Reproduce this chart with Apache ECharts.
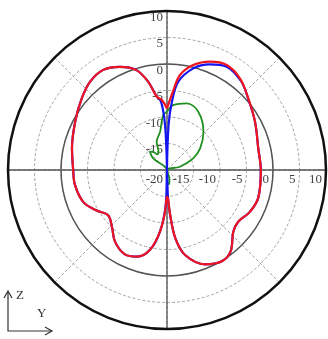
<!DOCTYPE html>
<html>
<head>
<meta charset="utf-8">
<script src="https://cdn.jsdelivr.net/npm/echarts@6/dist/echarts.min.js"></script>
<style>
  html, body { margin: 0; padding: 0; background: #ffffff; }
  #chart { width: 328px; height: 339px; }
</style>
</head>
<body>
<div id="chart"></div>
<script>
"use strict";

/* ---- data: [angle (deg, clockwise from +Z), gain dB] ---- */

const radiusTicks = [-20, -15, -10, -5, 0, 5, 10];

const redAngles = [0, 4.5, 7.8, 14, 21.7, 29.6, 38.5, 48.6, 61.2, 76.6, 90, 107, 117, 126, 133, 142, 149, 158, 168, 173, 176, 178, 180,
    182.7, 186.5, 192, 199, 206.5, 216, 224, 232.5, 240, 249, 261, 270, 283, 298, 310, 319, 327.5, 335.5, 343, 348, 352, 356, 360];
const redGain = [-8.4, -5.0, -1.9, 0.4, 2.0, 2.8, 2.1, 0.45, -1.05, -2.3, -2.3, -2.0, -2.5, -3.4, -2.9, -0.5, 0.1, -0.8, -3.6, -7.0, -11.5, -14.6, -15.0,
    -12.1, -8.3, -4.6, -2.7, -2.2, -3.3, -5.05, -6.0, -4.7, -3.1, -2.4, -2.3, -1.6, -0.4, 1.0, 2.1, 2.4, 1.4, -0.3, -3.0, -6.0, -6.8, -8.4];

const blueAngles = [0, 2, 4.2, 7.3, 14.5, 22, 30, 40, 48.6, 61.2, 76.6, 90, 107, 117, 126, 133, 142, 149, 158, 168, 173, 176, 178, 180,
    182, 186.5, 192, 199, 206.5, 216, 224, 232.5, 240, 249, 261, 270, 283, 298, 310, 319, 327.5, 335.5, 343, 348, 352, 355, 357.5, 360];
const blueGain = [-20, -11.5, -7.0, -3.2, -0.2, 1.5, 2.5, 1.8, 0.4, -1.05, -2.3, -2.3, -2.0, -2.5, -3.4, -2.9, -0.5, 0.1, -0.8, -3.6, -7.0, -11.5, -14.8, -20,
    -13.5, -8.3, -4.6, -2.7, -2.2, -3.3, -5.05, -6.0, -4.7, -3.1, -2.4, -2.3, -1.6, -0.4, 1.0, 2.1, 2.4, 1.4, -0.3, -3.0, -6.0, -7.0, -11.5, -20];

const greenAngles = [0, 5.5, 16.5, 28, 43.5, 56.7, 66, 75.7, 85, 150, 165, 172, 178, 186, 195, 300, 310, 317, 322, 328, 335, 340, 345, 350, 356, 360];
const greenGain = [-9.0, -7.7, -6.9, -7.5, -10.0, -12.5, -14.6, -17.5, -20, -20, -18.2, -17.3, -17.6, -19.2, -20, -20, -16.6, -15.3, -15.6, -16.5, -16.2, -14.3, -13.5, -12.6, -9.6, -9.0];

/* ---------------------------------------------------------- */

const CENTER = [167, 170];
const RADIUS = 159;
const labelFont = { fontFamily: "Liberation Serif", fontSize: 13, color: "#444444" };
const dashed = { color: "#a2a2a2", type: [3, 2], width: 1 };

function toPolar(angles, gains){
    return angles.map((a, i) => [gains[i], a]);
}

function patternSeries(name, angles, gains, color, width){
    return {
        name,
        type: "line",
        coordinateSystem: "polar",
        polarIndex: 1,
        data: toPolar(angles, gains),
        smooth: 0.35,
        symbol: "none",
        lineStyle: { color, width },
        z: 5
    };
}

const chart = echarts.init(document.getElementById("chart"));

chart.setOption({
    animation: false,
    polar: [
        { center: CENTER, radius: RADIUS },
        { center: CENTER, radius: RADIUS }
    ],
    angleAxis: [
        {   // dashed 45 deg spokes + outer circle, radius axis runs to the right
            polarIndex: 0,
            type: "value", min: 0, max: 360, interval: 45, startAngle: 0,
            axisLine: { show: true, lineStyle: { color: "#111111", width: 2.5 } },
            axisTick: { show: false },
            axisLabel: { show: false },
            splitLine: { show: true, lineStyle: dashed }
        },
        {   // solid Y/Z axes, data angles: 0 = +Z, clockwise
            polarIndex: 1,
            type: "value", min: 0, max: 360, interval: 90, startAngle: 90, clockwise: true,
            axisLine: { show: false },
            axisTick: { show: false },
            axisLabel: { show: false },
            splitLine: { show: true, lineStyle: { color: "#555555", width: 1.3 } }
        }
    ],
    radiusAxis: [
        {
            polarIndex: 0,
            type: "value", min: -20, max: 10, interval: 5,
            axisLine: { show: false },
            axisTick: { show: false },
            axisLabel: { ...labelFont, align: "right", verticalAlign: "top", margin: -3, padding: [0, 4, 0, 0] },
            splitLine: { show: true, lineStyle: dashed }
        },
        {
            polarIndex: 1,
            type: "value", min: -20, max: 10, interval: 5,
            axisLine: { show: false },
            axisTick: { show: false },
            axisLabel: { ...labelFont, showMinLabel: false, align: "right", verticalAlign: "top", margin: 4 },
            splitLine: {
                show: true,
                lineStyle: {
                    width: 1.5,
                    color: ["rgba(0,0,0,0)", "rgba(0,0,0,0)", "rgba(0,0,0,0)", "rgba(0,0,0,0)", "#555555", "rgba(0,0,0,0)", "rgba(0,0,0,0)"]
                }
            }
        }
    ],
    series: [
        patternSeries("green", greenAngles, greenGain, "#1f8f1f", 1.8),
        patternSeries("blue", blueAngles, blueGain, "#1414f0", 2.2),
        patternSeries("red", redAngles, redGain, "#f0141e", 2.2)
    ],
    graphic: [
        { type: "polyline", shape: { points: [[8, 292], [8, 331], [52, 331]] }, style: { stroke: "#333333", lineWidth: 1.2, fill: null } },
        { type: "polyline", shape: { points: [[4, 298], [8, 291], [12, 298]] }, style: { stroke: "#333333", lineWidth: 1.2, fill: null } },
        { type: "polyline", shape: { points: [[45, 327], [52, 331], [45, 335]] }, style: { stroke: "#333333", lineWidth: 1.2, fill: null } },
        { type: "text", x: 16, y: 289, style: { text: "Z", font: "13px 'Liberation Serif'", fill: "#333333" } },
        { type: "text", x: 37, y: 307, style: { text: "Y", font: "13px 'Liberation Serif'", fill: "#333333" } }
    ]
});
</script>
</body>
</html>
